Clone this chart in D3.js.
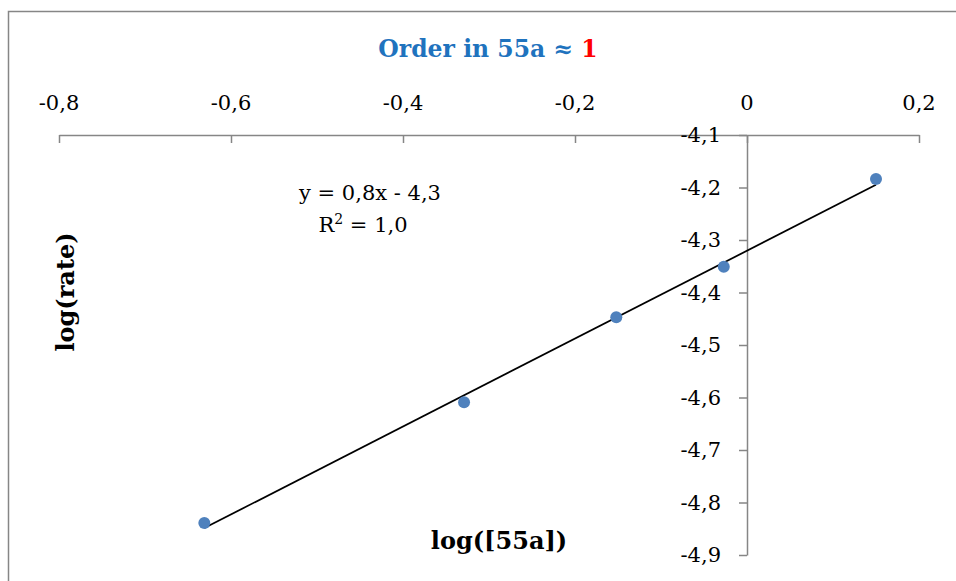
<!DOCTYPE html>
<html><head><meta charset="utf-8">
<script src="https://cdn.jsdelivr.net/npm/d3@7"></script>
<style>body{margin:0;background:#fff}svg{display:block}</style>
</head><body>
<svg id="c" width="956" height="581"></svg>
<script>
const xValues = [-0.631, -0.329, -0.152, -0.027, 0.150];
const yValues = [-4.839, -4.609, -4.447, -4.351, -4.184];
const xTicks = [-0.8, -0.6, -0.4, -0.2, 0, 0.2];
const yTicks = [-4.1, -4.2, -4.3, -4.4, -4.5, -4.6, -4.7, -4.8, -4.9];
const titleParts = ["Order in 55a ≈ ", "1"];
const xLabel = "log([55a])";
const yLabel = "log(rate)";
const eqLine1 = "y = 0,8x - 4,3";
const eqLine2 = ["R", "2", " = 1,0"];

const svg = d3.select("#c");
const fmt = v => (v === 0 ? "0" : d3.format(".1f")(v).replace(".", ",").replace("−", "-"));

// chart border
svg.append("rect").attr("x", 8.5).attr("y", 11.5).attr("width", 1000).attr("height", 1000)
  .attr("fill", "none").attr("stroke", "#868686").attr("stroke-width", 1.5);

const x = d3.scaleLinear().domain([-0.8, 0.2]).range([59, 919]);
const y = d3.scaleLinear().domain([-4.9, -4.1]).range([555, 135]);

const axisColor = "#868686";
// top x axis at y = -4.1
const gx = svg.append("g").attr("transform", `translate(0,${y(-4.1)})`)
  .call(d3.axisBottom(x).tickValues(xTicks).tickSize(8).tickSizeOuter(0).tickFormat(""));
gx.select(".domain").attr("stroke", axisColor).attr("stroke-width", 1.5);
gx.selectAll(".tick line").attr("stroke", axisColor).attr("stroke-width", 1.5);
svg.append("g").selectAll("text").data(xTicks).join("text")
  .attr("x", d => x(d)).attr("y", 110).attr("text-anchor", "middle")
  .attr("font-family", "DejaVu Serif").attr("font-size", 21)
  .text(fmt);

// y axis at x = 0
const gy = svg.append("g").attr("transform", `translate(${x(0)},0)`)
  .call(d3.axisLeft(y).tickValues(yTicks).tickSize(8).tickSizeOuter(0).tickFormat(""));
gy.select(".domain").attr("stroke", axisColor).attr("stroke-width", 1.5);
gy.selectAll(".tick line").attr("stroke", axisColor).attr("stroke-width", 1.5);
svg.append("g").selectAll("text").data(yTicks).join("text")
  .attr("x", x(0) - 26).attr("y", d => y(d) + 7).attr("text-anchor", "end")
  .attr("font-family", "DejaVu Serif").attr("font-size", 21)
  .text(fmt);

// trendline (least squares from data)
const mx = d3.mean(xValues), my = d3.mean(yValues);
const slope = d3.sum(xValues.map((v, i) => (v - mx) * (yValues[i] - my))) / d3.sum(xValues.map(v => (v - mx) ** 2));
const icpt = my - slope * mx;
const x0 = d3.min(xValues), x1 = d3.max(xValues);
svg.append("line").attr("x1", x(x0)).attr("y1", y(slope * x0 + icpt))
  .attr("x2", x(x1)).attr("y2", y(slope * x1 + icpt))
  .attr("stroke", "#000").attr("stroke-width", 1.75);

// points
svg.append("g").selectAll("circle").data(xValues).join("circle")
  .attr("cx", d => x(d)).attr("cy", (d, i) => y(yValues[i])).attr("r", 6)
  .attr("fill", "#4F81BD");

// equation
svg.append("text").attr("x", 370).attr("y", 200).attr("text-anchor", "middle")
  .attr("font-family", "DejaVu Serif").attr("font-size", 21).text(eqLine1);
const eq2 = svg.append("text").attr("x", 363).attr("y", 232).attr("text-anchor", "middle")
  .attr("font-family", "DejaVu Serif").attr("font-size", 21);
eq2.append("tspan").text(eqLine2[0]);
eq2.append("tspan").attr("font-size", 14).attr("dy", -8).text(eqLine2[1]);
eq2.append("tspan").attr("dy", 8).text(eqLine2[2]);

// title
const t = svg.append("text").attr("x", 488).attr("y", 57).attr("text-anchor", "middle")
  .attr("font-family", "DejaVu Serif").attr("font-weight", "bold").attr("font-size", 23.5);
t.append("tspan").attr("fill", "#1F73BE").text(titleParts[0]);
t.append("tspan").attr("fill", "#FF0000").text(titleParts[1]);

// axis titles
svg.append("text").attr("x", 499).attr("y", 549).attr("text-anchor", "middle")
  .attr("font-family", "DejaVu Serif").attr("font-weight", "bold").attr("font-size", 24).text(xLabel);
svg.append("text").attr("transform", "translate(74,292) rotate(-90)").attr("text-anchor", "middle")
  .attr("font-family", "DejaVu Serif").attr("font-weight", "bold").attr("font-size", 24).text(yLabel);
</script>
</body></html>
